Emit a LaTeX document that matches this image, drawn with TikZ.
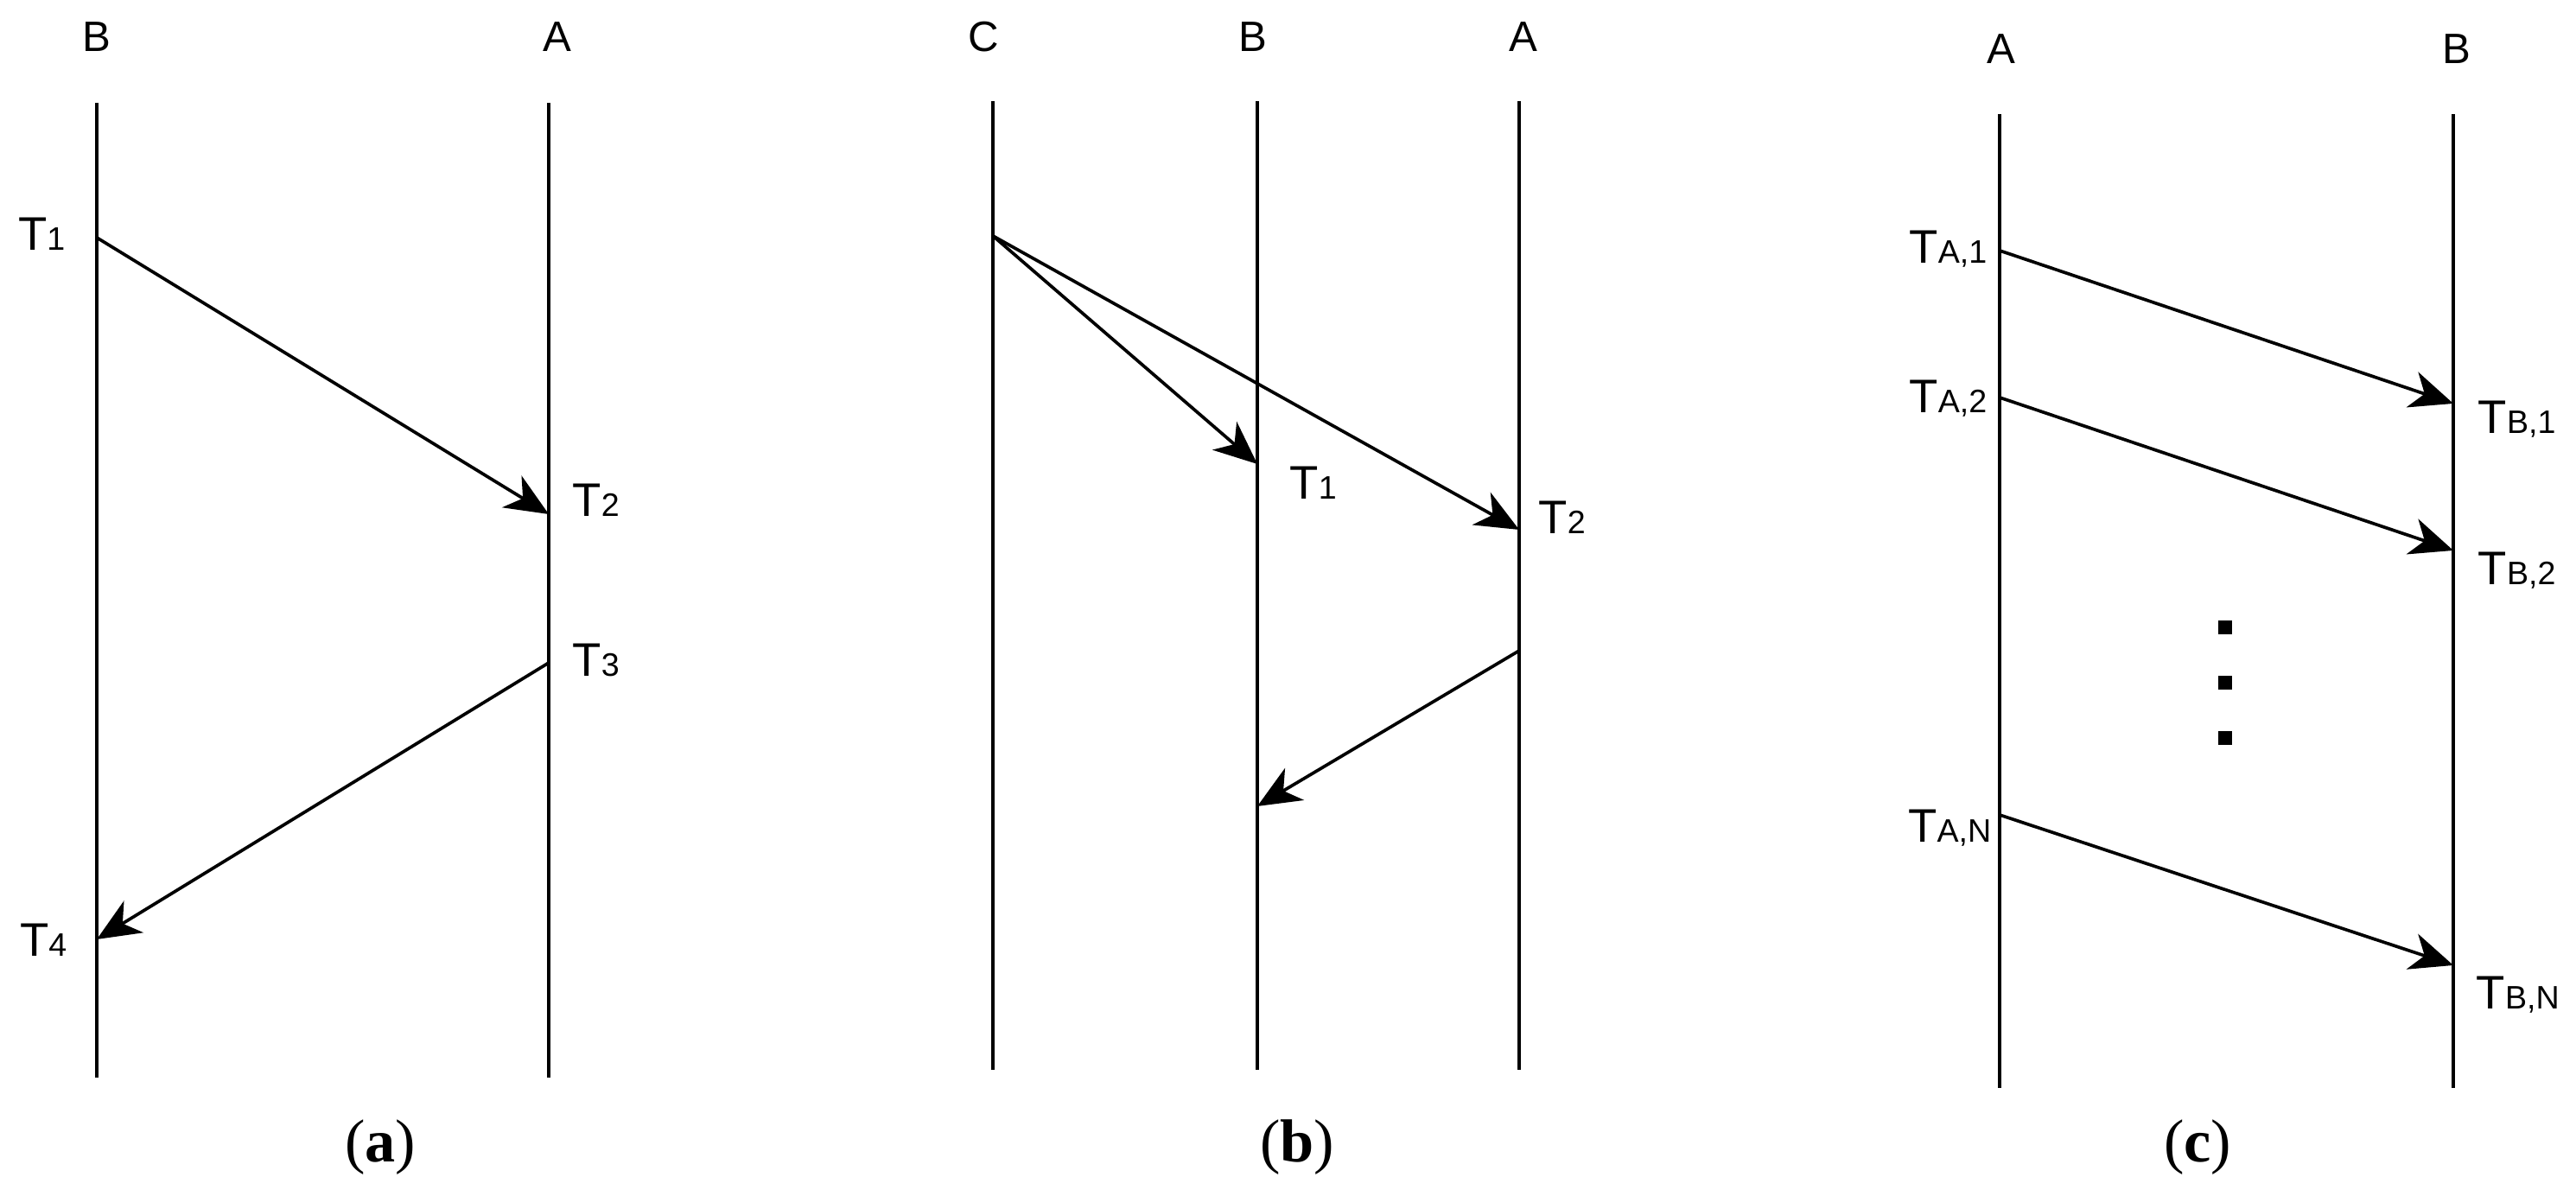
\documentclass[tikz,border=0pt]{standalone}
\usepackage{fontspec}
\setmainfont{Liberation Sans}
\newfontfamily\capfont{Liberation Serif}
\usetikzlibrary{calc,arrows.meta}

\tikzset{
  lifeline/.style={line width=1.05pt},
  msg/.style={line width=1.05pt, -{Stealth[length=5mm,width=4.3mm,inset=1.5mm]}},
  head/.style={font=\fontsize{14}{16}\selectfont, inner sep=0pt, anchor=base},
  tlab/.style={font=\fontsize{15.5}{18}\selectfont, inner sep=0pt},
  subcap/.style={font=\capfont\fontsize{20}{24}\selectfont, inner sep=0pt, anchor=base},
  dotbox/.style={fill=black, minimum size=0.16cm, inner sep=0pt},
}
\newcommand{\tsub}[1]{T{\fontsize{10.7}{12}\selectfont #1}}

\begin{document}
\begin{tikzpicture}
  \useasboundingbox (0,0) rectangle (29.81,13.84);

  % (a) B and A, request and reply
  \coordinate (aBt) at (1.12,12.65);
  \coordinate (aBb) at (1.12,1.37);
  \coordinate (aAt) at (6.35,12.65);
  \coordinate (aAb) at (6.35,1.37);
  \node[head] (aBh) at (1.12,13.24) {B};
  \node[head] (aAh) at (6.45,13.24) {A};
  \draw[lifeline] (aBt) -- (aBb);
  \draw[lifeline] (aAt) -- (aAb);

  \coordinate (a1) at (1.12,11.09);
  \coordinate (a2) at (6.35,7.89);
  \coordinate (a3) at (6.35,6.17);
  \coordinate (a4) at (1.12,2.97);
  \draw[msg] (a1) -- (a2);
  \draw[msg] (a3) -- (a4);

  \node[tlab, anchor=base east] (aT1) at ($(a1)+(-0.36,-0.15)$) {\tsub{1}};
  \node[tlab, anchor=base west] (aT2) at ($(a2)+(0.27,-0.03)$) {\tsub{2}};
  \node[tlab, anchor=base west] (aT3) at ($(a3)+(0.27,-0.16)$) {\tsub{3}};
  \node[tlab, anchor=base east] (aT4) at ($(a4)+(-0.34,-0.20)$) {\tsub{4}};

  \node[subcap] (capa) at (4.40,0.39) {(\textbf{a})};

  % (b) C sends to B and A, A answers B
  \coordinate (bCt) at (11.49,12.67);
  \coordinate (bCb) at (11.49,1.46);
  \coordinate (bBt) at (14.55,12.67);
  \coordinate (bBb) at (14.55,1.46);
  \coordinate (bAt) at (17.58,12.67);
  \coordinate (bAb) at (17.58,1.46);
  \node[head] (bCh) at (11.38,13.24) {C};
  \node[head] (bBh) at (14.50,13.24) {B};
  \node[head] (bAh) at (17.63,13.24) {A};
  \draw[lifeline] (bCt) -- (bCb);
  \draw[lifeline] (bBt) -- (bBb);
  \draw[lifeline] (bAt) -- (bAb);

  \coordinate (b0) at (11.49,11.11);
  \coordinate (b1) at (14.55,8.47);
  \coordinate (b2) at (17.58,7.71);
  \coordinate (b3) at (17.58,6.31);
  \coordinate (b4) at (14.55,4.51);
  \draw[msg] (b0) -- (b1);
  \draw[msg] (b0) -- (b2);
  \draw[msg] (b3) -- (b4);

  \node[tlab, anchor=base west] (bT1) at ($(b1)+(0.37,-0.41)$) {\tsub{1}};
  \node[tlab, anchor=base west] (bT2) at ($(b2)+(0.22,-0.05)$) {\tsub{2}};

  \node[subcap] (capb) at (15.01,0.39) {(\textbf{b})};

  % (c) A sends N messages to B
  \coordinate (cAt) at (23.14,12.52);
  \coordinate (cAb) at (23.14,1.25);
  \coordinate (cBt) at (28.39,12.52);
  \coordinate (cBb) at (28.39,1.25);
  \node[head] (cAh) at (23.16,13.10) {A};
  \node[head] (cBh) at (28.43,13.10) {B};
  \draw[lifeline] (cAt) -- (cAb);
  \draw[lifeline] (cBt) -- (cBb);

  \coordinate (cA1) at (23.14,10.94);
  \coordinate (cB1) at (28.39,9.17);
  \coordinate (cA2) at (23.14,9.24);
  \coordinate (cB2) at (28.39,7.47);
  \coordinate (cAN) at (23.14,4.41);
  \coordinate (cBN) at (28.39,2.67);
  \draw[msg] (cA1) -- (cB1);
  \draw[msg] (cA2) -- (cB2);
  \draw[msg] (cAN) -- (cBN);

  \node[tlab, anchor=base east] (cTA1) at ($(cA1)+(-0.14,-0.15)$) {\tsub{A,1}};
  \node[tlab, anchor=base east] (cTA2) at ($(cA2)+(-0.14,-0.18)$) {\tsub{A,2}};
  \node[tlab, anchor=base east] (cTAN) at ($(cAN)+(-0.09,-0.32)$) {\tsub{A,N}};
  \node[tlab, anchor=base west] (cTB1) at ($(cB1)+(0.28,-0.35)$) {\tsub{B,1}};
  \node[tlab, anchor=base west] (cTB2) at ($(cB2)+(0.28,-0.40)$) {\tsub{B,2}};
  \node[tlab, anchor=base west] (cTBN) at ($(cBN)+(0.26,-0.51)$) {\tsub{B,N}};

  % vertical ellipsis
  \node[dotbox] (dot1) at (25.75,6.58) {};
  \node[dotbox] (dot2) at (25.75,5.94) {};
  \node[dotbox] (dot3) at (25.75,5.30) {};

  \node[subcap] (capc) at (25.43,0.39) {(\textbf{c})};
\end{tikzpicture}
\end{document}
